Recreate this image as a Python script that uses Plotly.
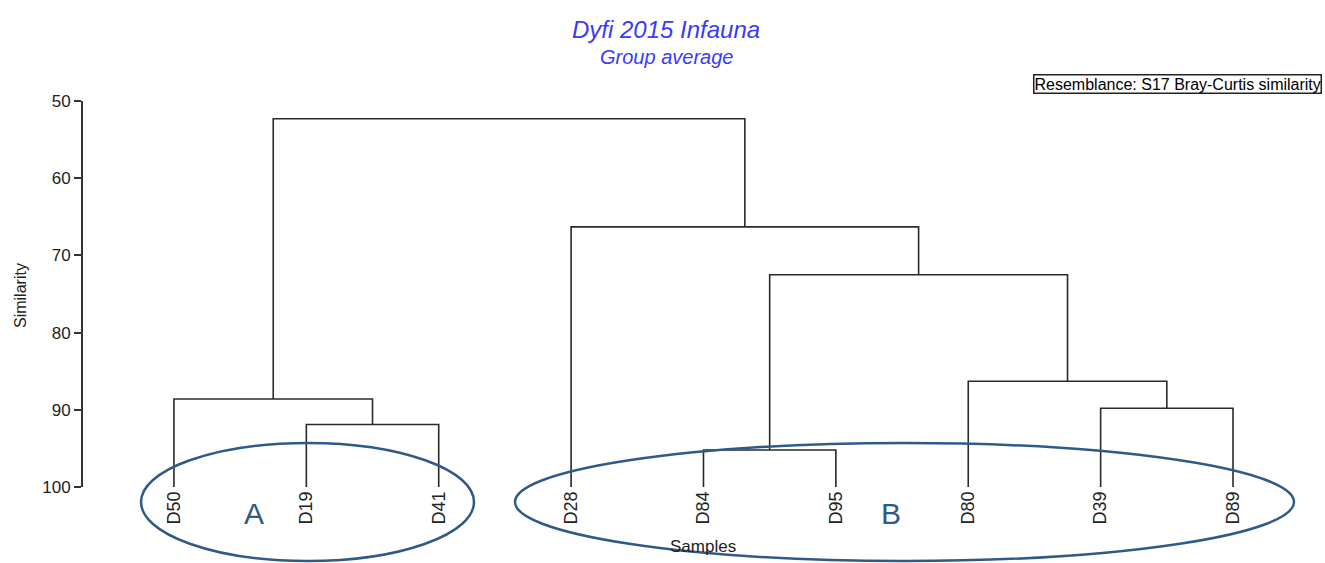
import plotly.graph_objects as go

# ---------------- data ----------------
leaves = ["D50", "D19", "D41", "D28", "D84", "D95", "D80", "D39", "D89"]
# merges: (left child, right child, similarity); children are leaf names or "m<k>" (k = merge index)
merge_left = ["D19", "D50", "D84", "D39", "D80", "m2", "D28", "m1"]
merge_right = ["D41", "m0", "D95", "D89", "m3", "m4", "m5", "m6"]
merge_height = [91.9, 88.6, 95.2, 89.8, 86.3, 72.5, 66.3, 52.3]
leaf_level = 100
y_ticks = [50, 60, 70, 80, 90, 100]

# ---------------- build dendrogram ----------------
pos = {name: (i, leaf_level) for i, name in enumerate(leaves)}
xs, ys = [], []
for k, (a, b, h) in enumerate(zip(merge_left, merge_right, merge_height)):
    xa, ya = pos[a]
    xb, yb = pos[b]
    xs += [xa, xa, xb, xb, None]
    ys += [ya, h, h, yb, None]
    pos["m%d" % k] = ((xa + xb) / 2, h)

FONT = "Arial, Liberation Sans, sans-serif"
fig = go.Figure()
fig.add_trace(go.Scatter(x=xs, y=ys, mode="lines",
                         line=dict(color="#2a2a2a", width=1.6),
                         hoverinfo="skip", showlegend=False))

W, H = 1325, 563
L, R, T, B = 83, 25, 101, 76
pw, ph = W - L - R, H - T - B

def px(x):
    return (x - L) / pw

def py(y):
    return (H - B - y) / ph

fig.update_layout(
    width=W, height=H,
    margin=dict(l=L, r=R, t=T, b=B),
    paper_bgcolor="white", plot_bgcolor="white",
    font=dict(family=FONT, color="#222222"),
    xaxis=dict(range=[-0.687, 8.506], tickmode="array",
               tickvals=list(range(len(leaves))), ticktext=leaves,
               tickangle=-90, ticks="", showline=False, showgrid=False,
               zeroline=False, tickfont=dict(size=18, color="#222222")),
    yaxis=dict(range=[leaf_level, 50], tickmode="array", tickvals=y_ticks,
               ticks="outside", ticklen=7, tickwidth=2, tickcolor="#333333",
               showline=True, linewidth=2, linecolor="#333333",
               showgrid=False, zeroline=False,
               tickfont=dict(size=17, color="#222222")),
)

ell = "#2e5a87"
fig.add_shape(type="circle", xref="paper", yref="paper",
              x0=px(141), x1=px(474), y0=py(561), y1=py(443),
              line=dict(color=ell, width=2.5))
fig.add_shape(type="circle", xref="paper", yref="paper",
              x0=px(515), x1=px(1294), y0=py(561), y1=py(443),
              line=dict(color=ell, width=2.5))

ann = [
    dict(text="Dyfi 2015 Infauna", x=px(666), y=py(29),
         font=dict(size=24, color="#3a3aff", family=FONT, style="italic")),
    dict(text="Group average", x=px(666), y=py(57),
         font=dict(size=20, color="#3a3aff", family=FONT, style="italic")),
    dict(text="A", x=px(254), y=py(513), font=dict(size=30, color=ell, family=FONT)),
    dict(text="B", x=px(891), y=py(513), font=dict(size=30, color=ell, family=FONT)),
    dict(text="Samples", x=px(703), y=py(546), font=dict(size=17, color="#222222", family=FONT)),
    dict(text="Similarity", x=px(20), y=py(296), textangle=-90,
         font=dict(size=16, color="#222222", family=FONT)),
]
for a in ann:
    fig.add_annotation(xref="paper", yref="paper", showarrow=False,
                       xanchor="center", yanchor="middle", **a)

fig.add_annotation(xref="paper", yref="paper", showarrow=False,
                   x=px(1322), y=py(84), xanchor="right", yanchor="middle",
                   text="Resemblance: S17 Bray-Curtis similarity",
                   font=dict(size=16, color="black", family=FONT),
                   bordercolor="#222222", borderwidth=1.5, borderpad=0, bgcolor="white")

fig.write_html("out.html", config={"displayModeBar": False},
               post_script="document.body.style.margin='0';document.body.style.overflow='hidden';")
